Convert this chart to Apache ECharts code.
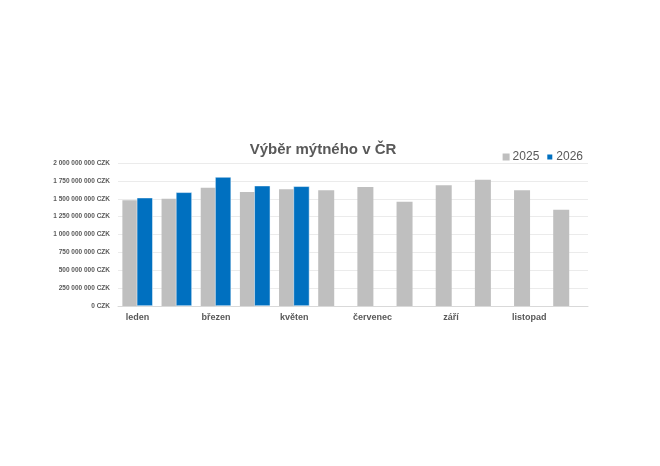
<!DOCTYPE html><html><head><meta charset="utf-8"><script src="https://cdn.jsdelivr.net/npm/echarts@6/dist/echarts.min.js"></script></head><body style="margin:0;background:#fff"><div id="c" style="width:660px;height:466px"></div><script>
const categories=["leden","únor","březen","duben","květen","červen","červenec","srpen","září","říjen","listopad","prosinec"];
const s2025=[1478e6,1500e6,1655e6,1594e6,1632e6,1618e6,1664e6,1459e6,1688e6,1767e6,1618e6,1347e6];
const s2026=[1515e6,1590e6,1804e6,1683e6,1674e6,null,null,null,null,null,null,null];
const fmt=v=>(v===0?'0':String(Math.round(v)).replace(/\B(?=(\d{3})+(?!\d))/g,' '))+' CZK';
const ch=echarts.init(document.getElementById('c'));
ch.setOption({animation:false,
title:{text:'Výběr mýtného v ČR',left:318,top:137,textAlign:'center',textStyle:{fontFamily:'Liberation Sans',fontSize:15,fontWeight:'bold',color:'#595959'}},
legend:{right:72,top:146,itemWidth:7,itemHeight:7,itemGap:6,icon:'rect',textStyle:{fontFamily:'Liberation Sans',fontSize:12,color:'#595959',padding:[0,0,0,-2]}},
grid:{left:118,right:72,top:163,bottom:160},
xAxis:{type:'category',data:categories,axisTick:{show:false},axisLine:{lineStyle:{color:'#d9d9d9'}},axisLabel:{fontFamily:'Liberation Sans',fontSize:9,fontWeight:'bold',color:'#595959',margin:7}},
yAxis:{type:'value',min:0,max:2e9,interval:25e7,axisLabel:{formatter:fmt,fontFamily:'Liberation Sans',fontSize:6.5,fontWeight:'bold',color:'#595959'},splitLine:{lineStyle:{color:'#ebebeb'}}},
series:[{name:'2025',type:'bar',data:s2025,itemStyle:{color:'#bfbfbf'},barWidth:16,barGap:'-10%'},
{name:'2026',type:'bar',data:s2026,itemStyle:{color:'#0070c0',borderColor:'#fff',borderWidth:0.5},barWidth:16}]});
</script></body></html>
